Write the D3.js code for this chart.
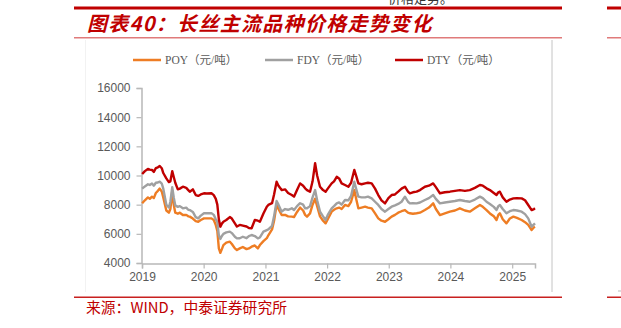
<!DOCTYPE html>
<html>
<head>
<meta charset="utf-8">
<script src="https://cdn.jsdelivr.net/npm/d3@7"></script>
<style>
  html, body { margin: 0; padding: 0; background: #fff; }
  svg { display: block; }
</style>
</head>
<body>
<svg id="chart" width="621" height="328"></svg>
<script>
// Observation dates (weekly-ish samples of the price series)
const dates = [
  "2019-01-02","2019-01-18","2019-02-05","2019-02-16","2019-03-01","2019-03-12","2019-03-24","2019-04-05",
  "2019-04-16","2019-04-28","2019-05-07","2019-05-25","2019-06-09","2019-06-18","2019-06-29","2019-07-08",
  "2019-07-17","2019-08-01","2019-08-13","2019-08-31","2019-09-20","2019-10-02","2019-10-11","2019-10-29",
  "2019-11-15","2019-11-30","2019-12-15","2020-01-03","2020-01-20","2020-02-16","2020-03-01","2020-03-13",
  "2020-03-22","2020-03-31","2020-04-09","2020-04-18","2020-04-27","2020-05-14","2020-06-04","2020-06-16",
  "2020-07-04","2020-07-16","2020-08-02","2020-08-20","2020-09-11","2020-09-25","2020-10-11","2020-10-30",
  "2020-11-17","2020-11-29","2020-12-20","2021-01-09","2021-01-18","2021-02-09","2021-02-21","2021-03-08",
  "2021-03-19","2021-04-07","2021-04-27","2021-05-15","2021-06-06","2021-06-19","2021-07-07","2021-07-25",
  "2021-08-12","2021-08-24","2021-09-04","2021-09-22","2021-10-07","2021-10-22","2021-11-03","2021-11-20",
  "2021-12-08","2021-12-23","2022-01-05","2022-01-28","2022-02-11","2022-02-27","2022-03-13","2022-03-28",
  "2022-04-17","2022-05-07","2022-05-23","2022-06-11","2022-06-24","2022-07-05","2022-07-24","2022-08-14",
  "2022-08-31","2022-09-22","2022-10-12","2022-10-31","2022-11-19","2022-12-10","2022-12-30","2023-01-18",
  "2023-02-07","2023-02-26","2023-03-18","2023-04-07","2023-04-25","2023-05-06","2023-05-24","2023-06-15",
  "2023-07-05","2023-08-03","2023-08-27","2023-09-21","2023-10-07","2023-10-31","2023-11-29","2023-12-29",
  "2024-01-28","2024-02-26","2024-03-27","2024-04-25","2024-05-25","2024-06-24","2024-07-11","2024-08-02",
  "2024-08-22","2024-09-14","2024-09-30","2024-10-11","2024-10-20","2024-11-06","2024-11-28","2024-12-18",
  "2025-01-08","2025-01-29","2025-02-26","2025-03-18","2025-04-06","2025-04-26","2025-05-10","2025-05-16"
];

// DTY price, 元/吨
const dty = [
  10100,10300,10450,10400,10380,10250,10500,10560,10650,10500,10170,9800,9550,9600,10300,9900,
  9500,9050,9100,9230,9150,9000,8890,9050,8660,8600,8700,8780,8770,8780,8650,8400,
  8000,7000,6490,6700,6830,6950,7150,7050,6720,6500,6610,6560,6500,6400,6380,6950,
  6900,6830,7400,7860,7980,8100,8700,9570,9300,9000,9050,8800,8660,8550,9000,9460,
  9300,9120,9000,8890,9600,10840,10000,9230,9000,8890,9100,9460,9600,9910,9800,9460,
  9350,9230,9500,10380,9900,9460,9400,9460,9500,9460,9100,8660,8300,8090,8450,8660,
  8700,8890,9100,9230,8900,8780,8850,8890,9000,9230,9300,9460,9200,8780,8850,8890,
  8950,9000,8950,9000,9150,9350,9300,9120,9000,8800,8660,8850,8890,8500,8200,8350,
  8430,8450,8430,8300,7980,7630,7700,7750
];

// FDY price, 元/吨
const fdy = [
  9100,9250,9400,9350,9450,9300,9500,9520,9580,9450,9100,8000,7800,8200,9200,8500,
  7950,7850,7900,7750,7800,7650,7630,7500,7150,7060,7250,7410,7410,7420,7300,7000,
  6800,5900,5650,5850,6000,6100,6150,6050,5800,5690,5700,5800,5700,5850,5920,5850,
  5690,5750,6150,6260,6300,6550,7200,8250,8000,7520,7700,7650,7750,7630,7900,8100,
  8000,7750,7750,7900,8500,9000,8300,7520,7200,6950,7300,7750,7900,8090,8150,8000,
  8320,8300,8600,9570,9000,8550,8500,8500,8550,8430,8200,7980,7700,7520,7700,7860,
  7950,8050,8200,8550,8200,8090,8100,8090,8150,8320,8450,8660,8400,8090,8150,8200,
  8250,8320,8250,8200,8350,8550,8450,8200,8050,7850,7630,7900,7980,7700,7410,7550,
  7630,7600,7520,7350,7060,6490,6650,6720
];

// POY price, 元/吨
const poy = [
  8100,8300,8500,8400,8550,8450,8800,8950,9100,8900,8500,7600,7450,7700,8900,8000,
  7450,7380,7450,7290,7300,7200,7180,7050,6870,6830,6950,7060,7060,7060,6950,6600,
  6200,5000,4700,4950,5230,5400,5460,5300,5000,4890,5000,5100,4950,5000,5120,5200,
  5000,5230,5500,5700,5900,6300,6900,8000,7700,7290,7300,7200,7180,7150,7500,7800,
  7600,7300,7180,7400,8000,8400,7900,7200,6900,6720,7000,7520,7650,7750,7800,7700,
  7980,7900,8200,9000,8300,7750,7800,7860,7800,7750,7400,7060,6900,6830,7000,7180,
  7300,7450,7550,7630,7450,7410,7380,7410,7450,7630,7800,8090,7700,7290,7400,7520,
  7600,7750,7600,7520,7750,7980,7850,7630,7400,7200,6950,7300,7410,7000,6720,7050,
  7180,7100,6950,6800,6610,6260,6450,6490
];

const yTicks = [4000, 6000, 8000, 10000, 12000, 14000, 16000];
const seriesNames = ["POY（元/吨）", "FDY（元/吨）", "DTY（元/吨）"];
const seriesColors = ["#ee7d24", "#a0a0a0", "#c00000"];

const titleText = "图表40：长丝主流品种价格走势变化";
const sourceText = "来源：WIND，中泰证券研究所";

const parse = d3.timeParse("%Y-%m-%d");
const dateObjs = dates.map(parse);
const seriesValues = [poy, fdy, dty];

const svg = d3.select("#chart");

// page decoration: tail of the preceding paragraph, header rules, title, footer
svg.append("text")
  .attr("x", 388).attr("y", 3)
  .attr("font-family", "Noto Sans CJK SC")
  .attr("font-size", 13).attr("fill", "#333")
  .text("价格走势。");

svg.append("rect").attr("x", 74).attr("y", 6.5).attr("width", 488).attr("height", 3).attr("fill", "#c00000");
svg.append("rect").attr("x", 607).attr("y", 6.5).attr("width", 14).attr("height", 3).attr("fill", "#c00000");

svg.append("text")
  .attr("x", 87).attr("y", 31)
  .attr("font-family", "Noto Sans CJK SC")
  .attr("font-weight", "bold")
  .attr("font-style", "italic")
  .attr("font-size", 20)
  .attr("letter-spacing", 1.3)
  .attr("fill", "#c00000")
  .text(titleText);

svg.append("rect").attr("x", 74).attr("y", 37).attr("width", 488).attr("height", 1.5).attr("fill", "#e07a7a");
svg.append("rect").attr("x", 607).attr("y", 37).attr("width", 14).attr("height", 1.5).attr("fill", "#e07a7a");

// chart frame edges
svg.append("line").attr("x1", 552).attr("x2", 552).attr("y1", 40).attr("y2", 292)
  .attr("stroke", "#c4c4c4").attr("stroke-width", 1);
svg.append("line").attr("x1", 85.5).attr("x2", 85.5).attr("y1", 40).attr("y2", 292)
  .attr("stroke", "#f2f2f2").attr("stroke-width", 1);
svg.append("line").attr("x1", 618).attr("x2", 621).attr("y1", 291).attr("y2", 291)
  .attr("stroke", "#bbb").attr("stroke-width", 1);

svg.append("rect").attr("x", 74).attr("y", 296.5).attr("width", 488).attr("height", 1.5).attr("fill", "#c8201f");
svg.append("rect").attr("x", 607).attr("y", 296.5).attr("width", 14).attr("height", 1.5).attr("fill", "#c8201f");

svg.append("text")
  .attr("x", 86).attr("y", 313)
  .attr("font-family", "Noto Sans CJK SC")
  .attr("font-size", 14.8)
  .attr("fill", "#c00000")
  .text(sourceText);

// scales
const x = d3.scaleTime()
  .domain([parse("2019-01-01"), parse("2025-05-16")])
  .range([142, 535]);
const y = d3.scaleLinear().domain([4000, 16000]).range([263, 88]);

const axisColor = "#b8b8b8";
const labelColor = "#595959";

// y axis
const yAxis = svg.append("g")
  .attr("transform", "translate(141.5,0)")
  .call(d3.axisLeft(y).tickValues(yTicks).tickSize(5).tickPadding(6).tickFormat(d3.format("d")));
yAxis.select(".domain").attr("stroke", axisColor).attr("stroke-width", 1.5);
yAxis.selectAll(".tick line").attr("stroke", axisColor).attr("stroke-width", 1.2);
yAxis.selectAll(".tick text")
  .attr("fill", labelColor)
  .attr("font-family", "Liberation Sans, Arial, sans-serif")
  .attr("font-size", 12);

// x axis
const xAxis = svg.append("g")
  .attr("transform", "translate(0,263.5)")
  .call(d3.axisBottom(x).ticks(d3.timeYear.every(1)).tickSize(5).tickPadding(4).tickFormat(d3.timeFormat("%Y")));
xAxis.select(".domain").attr("stroke", axisColor).attr("stroke-width", 1.5);
xAxis.selectAll(".tick line").attr("stroke", axisColor).attr("stroke-width", 1.2);
xAxis.selectAll(".tick text")
  .attr("fill", labelColor)
  .attr("font-family", "Liberation Sans, Arial, sans-serif")
  .attr("font-size", 12);

// series lines
const line = d3.line()
  .x((d, i) => x(dateObjs[i]))
  .y(d => y(d));

svg.append("g").selectAll("path")
  .data(seriesValues)
  .join("path")
  .attr("d", d => line(d))
  .attr("fill", "none")
  .attr("stroke", (d, i) => seriesColors[i])
  .attr("stroke-width", 2.4)
  .attr("stroke-linejoin", "round");

// legend
const legendX = [133, 265, 395];
const legend = svg.append("g").selectAll("g")
  .data(seriesNames)
  .join("g")
  .attr("transform", (d, i) => `translate(${legendX[i]},60)`);
legend.append("line")
  .attr("x1", 0).attr("x2", 28).attr("y1", 0).attr("y2", 0)
  .attr("stroke", (d, i) => seriesColors[i])
  .attr("stroke-width", 2.5);
legend.append("text")
  .attr("x", 32).attr("y", 4)
  .attr("font-family", "Liberation Serif, 'Noto Sans CJK SC', serif")
  .attr("font-size", 11.5)
  .attr("fill", labelColor)
  .text(d => d);
</script>
</body>
</html>
